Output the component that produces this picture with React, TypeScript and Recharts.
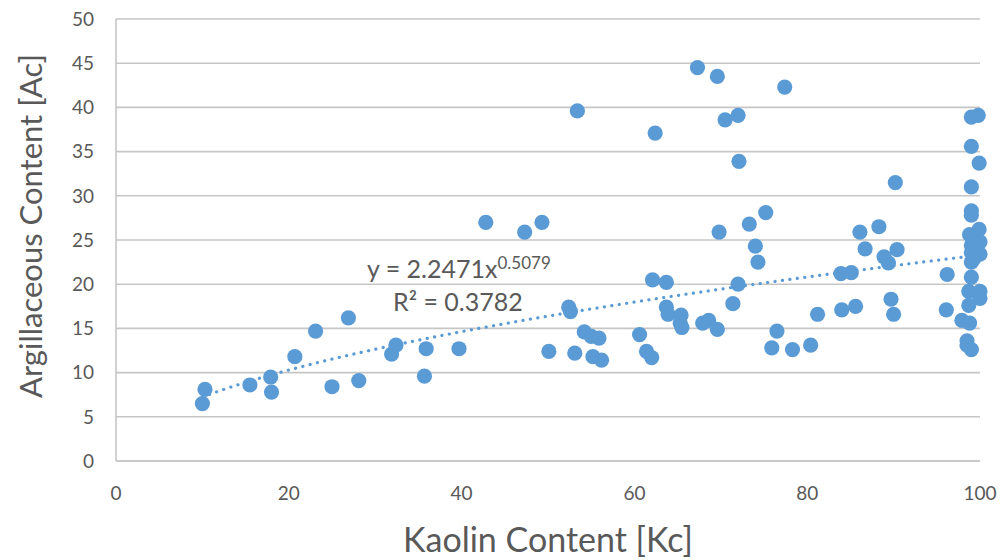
import React from "react";
import { ScatterChart, Scatter, XAxis, YAxis, CartesianGrid } from "recharts";

const kaolin: number[] = [
  10.3, 10.0, 15.5, 17.9, 18.0, 20.7, 23.1, 26.9, 25.0, 28.1,
  32.4, 31.9, 35.9, 35.7, 39.7, 42.8, 47.3, 49.3, 53.4, 52.4,
  52.6, 50.1, 53.1, 54.2, 55.0, 55.9, 55.2, 56.2, 60.6, 61.4,
  62.0, 62.1, 62.4, 63.7, 63.7, 63.9, 65.4, 65.3, 65.5, 67.3,
  67.9, 68.6, 69.6, 69.6, 69.8, 70.5, 71.4, 72.0, 72.0, 72.1,
  73.3, 74.0, 74.3, 75.2, 75.9, 76.5, 77.4, 78.3, 80.4, 81.2,
  83.9, 84.0, 85.1, 85.6, 86.1, 86.7, 88.3, 88.9, 89.4, 89.7,
  90.0, 90.2, 90.4, 96.2, 96.1, 97.9, 98.8, 98.5, 98.5, 99.0,
  98.7, 100, 100, 98.7, 99.0, 99.0, 99.8, 99.0, 99.9, 99.0,
  99.0, 99.0, 99.9, 98.8, 99.2, 100, 99.0, 99.6, 99.0, 100,
  99.3, 99.0,
];

const argillaceous: number[] = [
  8.1, 6.5, 8.6, 9.5, 7.8, 11.8, 14.7, 16.2, 8.4, 9.1,
  13.1, 12.1, 12.7, 9.6, 12.7, 27.0, 25.9, 27.0, 39.6, 17.4,
  16.9, 12.4, 12.2, 14.6, 14.1, 13.9, 11.8, 11.4, 14.3, 12.4,
  11.7, 20.5, 37.1, 20.2, 17.4, 16.6, 16.5, 15.6, 15.1, 44.5,
  15.6, 15.9, 14.9, 43.5, 25.9, 38.6, 17.8, 20.0, 39.1, 33.9,
  26.8, 24.3, 22.5, 28.1, 12.8, 14.7, 42.3, 12.6, 13.1, 16.6,
  21.2, 17.1, 21.3, 17.5, 25.9, 24.0, 26.5, 23.1, 22.4, 18.3,
  16.6, 31.5, 23.9, 21.1, 17.1, 15.9, 15.6, 13.6, 13.1, 12.6,
  19.2, 19.2, 18.4, 17.6, 20.8, 38.9, 39.1, 35.6, 33.7, 31.0,
  28.3, 27.8, 26.2, 25.6, 25.3, 24.8, 24.4, 24.0, 23.6, 23.4,
  22.9, 22.5,
];

const xTicks = [0, 20, 40, 60, 80, 100];
const yTicks = [0, 5, 10, 15, 20, 25, 30, 35, 40, 45, 50];

// Power trendline shown on the chart: y = 2.2471 x^0.5079
const TREND_A = 2.2471;
const TREND_B = 0.5079;
const trendXs = [10, 12, 15, 18, 21, 25, 30, 35, 40, 45, 50, 55, 60, 65, 70, 75, 80, 85, 90, 95, 100];

const points = kaolin.map((x, i) => ({ x, y: argillaceous[i] }));
const trend = trendXs.map((x) => ({ x, y: TREND_A * Math.pow(x, TREND_B) }));

const BLUE = "#5B9BD5";
const TEXT = "#595959";
const FONT = "Lato, 'Open Sans', sans-serif";

const Dot = (props: any) => {
  const { cx, cy } = props;
  if (cx == null || cy == null) return <g />;
  return <circle cx={cx} cy={cy} r={7.6} fill={BLUE} />;
};

const NoShape = () => <g />;

export default function App() {
  return (
    <div
      style={{
        position: "absolute",
        left: 0,
        top: 0,
        width: 1003,
        height: 560,
        background: "#fff",
        fontFamily: FONT,
        overflow: "hidden",
      }}
    >
      <ScatterChart
        width={1003}
        height={560}
        margin={{ top: 19, right: 23, bottom: 0, left: 0 }}
      >
        <CartesianGrid vertical={false} stroke="#C6C6C6" strokeWidth={1.6} />
        <XAxis
          type="number"
          dataKey="x"
          domain={[0, 100]}
          ticks={xTicks}
          height={99}
          tickLine={false}
          tickSize={0}
          tickMargin={26}
          axisLine={{ stroke: "#C6C6C6", strokeWidth: 1.6 }}
          tick={{ fill: TEXT, fontSize: 19, fontFamily: FONT }}
        />
        <YAxis
          type="number"
          dataKey="y"
          domain={[0, 50]}
          ticks={yTicks}
          width={116}
          tickLine={false}
          tickSize={0}
          tickMargin={22}
          axisLine={{ stroke: "#C6C6C6", strokeWidth: 1.6 }}
          tick={{ fill: TEXT, fontSize: 19, fontFamily: FONT }}
        />
        <Scatter
          data={trend}
          isAnimationActive={false}
          shape={NoShape}
          line={{
            stroke: BLUE,
            strokeWidth: 3.2,
            strokeDasharray: "0.1 7.4",
            strokeLinecap: "round",
          }}
          lineType="joint"
          lineJointType="monotoneX"
        />
        <Scatter data={points} isAnimationActive={false} shape={Dot} />
      </ScatterChart>

      <div
        style={{
          position: "absolute",
          left: 30,
          top: 226,
          transform: "translate(-50%, -50%) rotate(-90deg)",
          whiteSpace: "nowrap",
          fontSize: 31,
          color: TEXT,
          fontFamily: FONT,
          lineHeight: 1,
        }}
      >
        Argillaceous Content [Ac]
      </div>
      <div
        style={{
          position: "absolute",
          left: 548,
          top: 539,
          transform: "translate(-50%, -50%)",
          whiteSpace: "nowrap",
          fontSize: 34,
          color: TEXT,
          fontFamily: FONT,
          lineHeight: 1,
        }}
      >
        Kaolin Content [Kc]
      </div>
      <div
        style={{
          position: "absolute",
          left: 367,
          top: 254,
          whiteSpace: "nowrap",
          fontSize: 25,
          color: TEXT,
          fontFamily: FONT,
          lineHeight: 1,
        }}
      >
        y = 2.2471x<sup style={{ fontSize: 17, verticalAlign: 9 }}>0.5079</sup>
      </div>
      <div
        style={{
          position: "absolute",
          left: 393,
          top: 289,
          whiteSpace: "nowrap",
          fontSize: 25,
          color: TEXT,
          fontFamily: FONT,
          lineHeight: 1,
        }}
      >
        R² = 0.3782
      </div>
    </div>
  );
}
